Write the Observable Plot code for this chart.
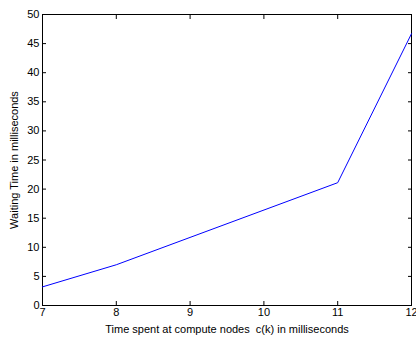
<!DOCTYPE html>
<html>
<head>
<meta charset="utf-8">
<script src="https://cdn.jsdelivr.net/npm/d3@7"></script>
<script src="https://cdn.jsdelivr.net/npm/@observablehq/plot@0.6"></script>
<style>
  html, body { margin: 0; padding: 0; background: #fff; }
  svg { display: block; }
</style>
</head>
<body>
<div id="chart"></div>
<script>
const computeTime = [7, 8, 11, 12];
const waitingTime = [3.2, 7, 21.1, 46.7];
const xTicks = [7, 8, 9, 10, 11, 12];
const yTicks = [0, 5, 10, 15, 20, 25, 30, 35, 40, 45, 50];
const xLabel = "Time spent at compute nodes  c(k) in milliseconds";
const yLabel = "Waiting Time in milliseconds";

const data = computeTime.map((x, i) => ({x, y: waitingTime[i]}));

const chart = Plot.plot({
  width: 416,
  height: 338,
  marginLeft: 42,
  marginRight: 5,
  marginTop: 14,
  marginBottom: 33,
  style: {fontFamily: "Liberation Sans, Arial, sans-serif", fontSize: "11px", color: "#000", background: "#fff"},
  x: {domain: [7, 12]},
  y: {domain: [0, 50]},
  marks: [
    Plot.axisX({anchor: "bottom", ticks: xTicks, tickFormat: "d", tickSize: -4, tickPadding: 7, label: xLabel, labelAnchor: "center", labelArrow: "none", labelOffset: 27, fontSize: 11}),
    Plot.axisX({anchor: "top", ticks: xTicks, tickSize: -4, tickFormat: () => "", label: null}),
    Plot.axisY({anchor: "left", ticks: yTicks, tickFormat: "d", tickSize: -4, tickPadding: 7, label: yLabel, labelAnchor: "center", labelArrow: "none", labelOffset: 32, fontSize: 11}),
    Plot.axisY({anchor: "right", ticks: yTicks, tickSize: -4, tickFormat: () => "", label: null}),
    Plot.frame({stroke: "#000", strokeWidth: 1}),
    Plot.line(data, {x: "x", y: "y", stroke: "#0000ff", strokeWidth: 1})
  ]
});
document.getElementById("chart").appendChild(chart);
</script>
</body>
</html>
